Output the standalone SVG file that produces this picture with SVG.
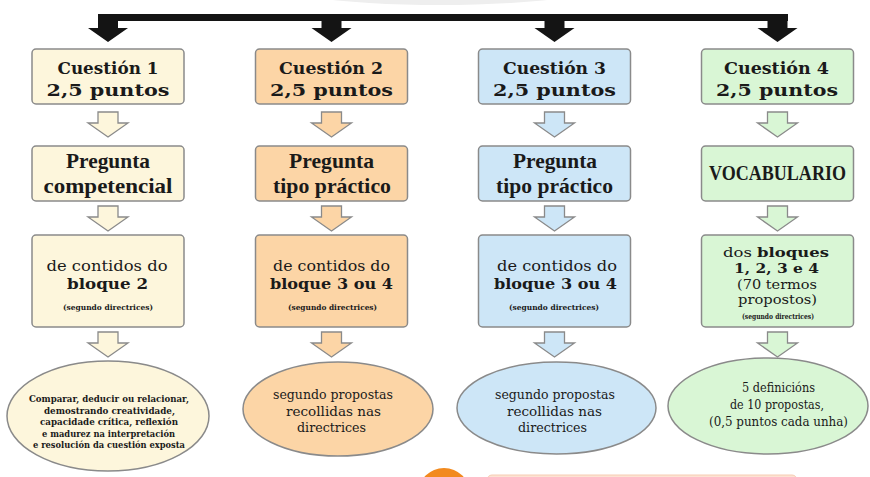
<svg xmlns="http://www.w3.org/2000/svg" width="870" height="477" viewBox="0 0 870 477">
<style>
  .box{stroke:#8a8a8a;stroke-width:1.5}
  .c1{fill:#fdf6dc}
  .c2{fill:#fcd5a6}
  .c3{fill:#cde6f7}
  .c4{fill:#d9f6d5}
  .harrow{stroke:#8a8a8a;stroke-width:1.3;stroke-linejoin:miter}
  .black{fill:#141414}
  text{fill:#1a1a1a;text-anchor:middle}
  .title{font-family:"DejaVu Serif",serif;font-weight:bold;font-size:17px}
  .preg{font-family:"Liberation Serif","Times New Roman",serif;font-weight:bold;font-size:22px}
  .body{font-family:"DejaVu Serif",serif;font-size:15px}
  .bodyb{font-family:"DejaVu Serif",serif;font-size:15px;font-weight:bold}
  .small{font-size:13.5px}
  .tiny{font-family:"DejaVu Serif",serif;font-size:7.5px;font-weight:bold}
  .ell{font-family:"DejaVu Serif",serif;font-size:13px}
  .ell1{font-family:"DejaVu Serif",serif;font-size:10px;font-weight:bold}
</style>

<!-- faint background shape at top -->
<ellipse cx="440" cy="-22" rx="185" ry="27" fill="#eeeeee"/>

<g id="connectors">
  <rect class="black" x="98" y="14" width="690" height="7"/>
  <polygon class="black" points="98,14 118,14 118,28 128,28 108,42 88,28 98,28"/>
  <polygon class="black" points="321.5,14 341.5,14 341.5,28 351.5,28 331.5,42 311.5,28 321.5,28"/>
  <polygon class="black" points="544.5,14 564.5,14 564.5,28 574.5,28 554.5,42 534.5,28 544.5,28"/>
  <polygon class="black" points="767.5,14 787.5,14 787.5,28 797.5,28 777.5,42 757.5,28 767.5,28"/>

  <!-- column 1 hollow arrows -->
  <polygon class="harrow c1" points="98,112 118,112 118,123 128,123 108,137 88,123 98,123"/>
  <polygon class="harrow c1" points="98,206 118,206 118,217 128,217 108,231 88,217 98,217"/>
  <polygon class="harrow c1" points="98,332 118,332 118,343 128,343 108,357 88,343 98,343"/>
  <!-- column 2 -->
  <polygon class="harrow c2" points="321.5,112 341.5,112 341.5,123 351.5,123 331.5,137 311.5,123 321.5,123"/>
  <polygon class="harrow c2" points="321.5,206 341.5,206 341.5,217 351.5,217 331.5,231 311.5,217 321.5,217"/>
  <polygon class="harrow c2" points="321.5,332 341.5,332 341.5,343 351.5,343 331.5,357 311.5,343 321.5,343"/>
  <!-- column 3 -->
  <polygon class="harrow c3" points="544.5,112 564.5,112 564.5,123 574.5,123 554.5,137 534.5,123 544.5,123"/>
  <polygon class="harrow c3" points="544.5,206 564.5,206 564.5,217 574.5,217 554.5,231 534.5,217 544.5,217"/>
  <polygon class="harrow c3" points="544.5,332 564.5,332 564.5,343 574.5,343 554.5,357 534.5,343 544.5,343"/>
  <!-- column 4 -->
  <polygon class="harrow c4" points="767.5,112 787.5,112 787.5,123 797.5,123 777.5,137 757.5,123 767.5,123"/>
  <polygon class="harrow c4" points="767.5,206 787.5,206 787.5,217 797.5,217 777.5,231 757.5,217 767.5,217"/>
  <polygon class="harrow c4" points="767.5,332 787.5,332 787.5,343 797.5,343 777.5,357 757.5,343 767.5,343"/>
</g>

<!-- Column 1 -->
<g id="q1-title">
  <rect class="box c1" x="32" y="49" width="152" height="55" rx="4"/>
  <text class="title" x="108" y="74" textLength="101" lengthAdjust="spacingAndGlyphs">Cuestión 1</text>
  <text class="title" x="108" y="96" textLength="123" lengthAdjust="spacingAndGlyphs">2,5 puntos</text>
</g>
<g id="q1-type">
  <rect class="box c1" x="32" y="146" width="152" height="55" rx="4"/>
  <text class="preg" x="108" y="168" textLength="84" lengthAdjust="spacingAndGlyphs">Pregunta</text>
  <text class="preg" x="108" y="193" textLength="129" lengthAdjust="spacingAndGlyphs">competencial</text>
</g>
<g id="q1-content">
  <rect class="box c1" x="32" y="235" width="152" height="92" rx="4"/>
  <text class="body" x="107" y="271" textLength="121" lengthAdjust="spacingAndGlyphs">de contidos do</text>
  <text class="bodyb" x="107.5" y="289" textLength="81" lengthAdjust="spacingAndGlyphs">bloque 2</text>
  <text class="tiny" x="108" y="310" textLength="90" lengthAdjust="spacingAndGlyphs">(segundo directrices)</text>
</g>
<g id="q1-desc">
  <ellipse class="box c1" cx="108" cy="416" rx="101" ry="55"/>
  <text class="ell1" x="109" y="402" textLength="160" lengthAdjust="spacingAndGlyphs">Comparar, deducir ou relacionar,</text>
  <text class="ell1" x="109.5" y="413.5" textLength="131" lengthAdjust="spacingAndGlyphs">demostrando creatividade,</text>
  <text class="ell1" x="109" y="425" textLength="138" lengthAdjust="spacingAndGlyphs">capacidade crítica, reflexión</text>
  <text class="ell1" x="108.5" y="436.5" textLength="133" lengthAdjust="spacingAndGlyphs">e madurez na interpretación</text>
  <text class="ell1" x="109" y="448" textLength="152" lengthAdjust="spacingAndGlyphs">e resolución da cuestión exposta</text>
</g>

<!-- Column 2 -->
<g id="q2-title">
  <rect class="box c2" x="255.5" y="49" width="152" height="55" rx="4"/>
  <text class="title" x="331" y="74" textLength="104" lengthAdjust="spacingAndGlyphs">Cuestión 2</text>
  <text class="title" x="331.5" y="96" textLength="123" lengthAdjust="spacingAndGlyphs">2,5 puntos</text>
</g>
<g id="q2-type">
  <rect class="box c2" x="255.5" y="146" width="152" height="55" rx="4"/>
  <text class="preg" x="331.5" y="168" textLength="85" lengthAdjust="spacingAndGlyphs">Pregunta</text>
  <text class="preg" x="332" y="193" textLength="118" lengthAdjust="spacingAndGlyphs">tipo práctico</text>
</g>
<g id="q2-content">
  <rect class="box c2" x="255.5" y="235" width="152" height="92" rx="4"/>
  <text class="body" x="331.5" y="271" textLength="117" lengthAdjust="spacingAndGlyphs">de contidos do</text>
  <text class="bodyb" x="331.5" y="289" textLength="123" lengthAdjust="spacingAndGlyphs">bloque 3 ou 4</text>
  <text class="tiny" x="332.5" y="310" textLength="89" lengthAdjust="spacingAndGlyphs">(segundo directrices)</text>
</g>
<g id="q2-desc">
  <ellipse class="box c2" cx="338" cy="409" rx="95" ry="47"/>
  <text class="ell" x="333" y="399" textLength="120" lengthAdjust="spacingAndGlyphs">segundo propostas</text>
  <text class="ell" x="333.5" y="415.5" textLength="95" lengthAdjust="spacingAndGlyphs">recollidas nas</text>
  <text class="ell" x="331.5" y="432" textLength="69" lengthAdjust="spacingAndGlyphs">directrices</text>
</g>

<!-- Column 3 -->
<g id="q3-title">
  <rect class="box c3" x="478.5" y="49" width="152" height="55" rx="4"/>
  <text class="title" x="554.5" y="74" textLength="103" lengthAdjust="spacingAndGlyphs">Cuestión 3</text>
  <text class="title" x="554.5" y="96" textLength="123" lengthAdjust="spacingAndGlyphs">2,5 puntos</text>
</g>
<g id="q3-type">
  <rect class="box c3" x="478.5" y="146" width="152" height="55" rx="4"/>
  <text class="preg" x="555" y="168" textLength="84" lengthAdjust="spacingAndGlyphs">Pregunta</text>
  <text class="preg" x="554.5" y="193" textLength="117" lengthAdjust="spacingAndGlyphs">tipo práctico</text>
</g>
<g id="q3-content">
  <rect class="box c3" x="478.5" y="235" width="152" height="92" rx="4"/>
  <text class="body" x="557" y="271" textLength="120" lengthAdjust="spacingAndGlyphs">de contidos do</text>
  <text class="bodyb" x="555.5" y="289" textLength="123" lengthAdjust="spacingAndGlyphs">bloque 3 ou 4</text>
  <text class="tiny" x="554" y="310" textLength="90" lengthAdjust="spacingAndGlyphs">(segundo directrices)</text>
</g>
<g id="q3-desc">
  <ellipse class="box c3" cx="556.5" cy="408" rx="99.5" ry="46"/>
  <text class="ell" x="555" y="399" textLength="120" lengthAdjust="spacingAndGlyphs">segundo propostas</text>
  <text class="ell" x="554.5" y="415.5" textLength="95" lengthAdjust="spacingAndGlyphs">recollidas nas</text>
  <text class="ell" x="552.5" y="432" textLength="69" lengthAdjust="spacingAndGlyphs">directrices</text>
</g>

<!-- Column 4 -->
<g id="q4-title">
  <rect class="box c4" x="701.5" y="49" width="152" height="55" rx="4"/>
  <text class="title" x="776.5" y="74" textLength="105" lengthAdjust="spacingAndGlyphs">Cuestión 4</text>
  <text class="title" x="777" y="96" textLength="122" lengthAdjust="spacingAndGlyphs">2,5 puntos</text>
</g>
<g id="q4-type">
  <rect class="box c4" x="701.5" y="146" width="152" height="55" rx="4"/>
  <text class="preg" x="777.5" y="180" font-size="19" textLength="137" lengthAdjust="spacingAndGlyphs">VOCABULARIO</text>
</g>
<g id="q4-content">
  <rect class="box c4" x="701.5" y="235" width="152" height="92" rx="4"/>
  <text class="body small" x="776" y="257" textLength="106" lengthAdjust="spacingAndGlyphs">dos <tspan font-weight="bold">bloques</tspan></text>
  <text class="bodyb small" x="776.5" y="273" textLength="85" lengthAdjust="spacingAndGlyphs">1, 2, 3 e 4</text>
  <text class="body small" x="777" y="289" textLength="80" lengthAdjust="spacingAndGlyphs">(70 termos</text>
  <text class="body small" x="777.5" y="304" textLength="79" lengthAdjust="spacingAndGlyphs">propostos)</text>
  <text class="tiny" x="778" y="319" font-size="6.5" textLength="72" lengthAdjust="spacingAndGlyphs">(segundo directrices)</text>
</g>
<g id="q4-desc">
  <ellipse class="box c4" cx="768" cy="406" rx="100" ry="48"/>
  <text class="ell" x="778.5" y="392" textLength="73" lengthAdjust="spacingAndGlyphs">5 definicións</text>
  <text class="ell" x="777" y="409" textLength="94" lengthAdjust="spacingAndGlyphs">de 10 propostas,</text>
  <text class="ell" x="778.5" y="426" textLength="139" lengthAdjust="spacingAndGlyphs">(0,5 puntos cada unha)</text>
</g>

<!-- partially visible shapes at bottom -->
<circle cx="444" cy="494" r="26" fill="#f28a1e"/>
<rect x="487" y="475" width="310" height="30" rx="5" fill="#fde3d3" stroke="#f6cdb4" stroke-width="1"/>
</svg>
